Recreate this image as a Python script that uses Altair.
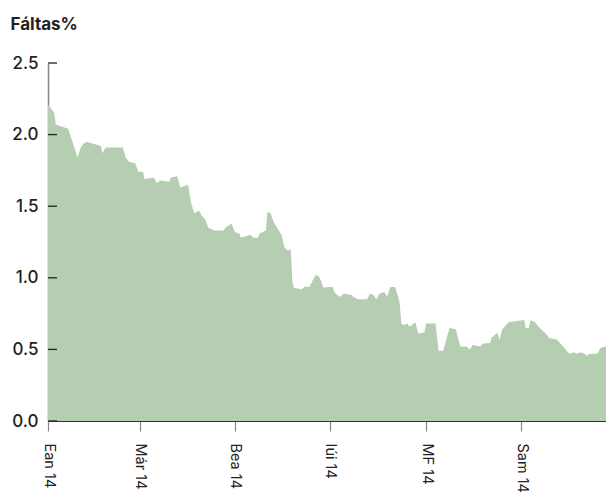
import altair as alt
import pandas as pd

# Day offsets from 1 Jan 2014 and the yield (%)
days = [0, 4, 5, 13, 19, 21, 23, 25, 28, 34, 35, 37, 48, 50, 52, 56, 58, 61, 62, 68,
        70, 72, 78, 79, 83, 85, 90, 92, 94, 97, 99, 101, 103, 107, 113, 114, 118, 120,
        123, 124, 130, 132, 135, 136, 140, 141, 143, 145, 150, 152, 154, 156, 157, 158,
        163, 165, 168, 170, 172, 174, 175, 177, 180, 183, 184, 187, 188, 190, 195, 196,
        199, 205, 207, 209, 211, 213, 216, 218, 220, 223, 225, 226, 227, 229, 231, 232,
        234, 236, 238, 242, 243, 247, 249, 251, 254, 258, 262, 265, 269, 271, 273, 278,
        279, 284, 285, 287, 289, 290, 292, 296, 306, 307, 309, 310, 313, 316, 320, 322,
        327, 331, 335, 338, 340, 342, 345, 346, 348, 353, 355, 358, 364]
values = [2.21, 2.15, 2.07, 2.04, 1.84, 1.91, 1.94, 1.95, 1.94, 1.92, 1.87, 1.91, 1.91, 1.84,
          1.81, 1.80, 1.74, 1.74, 1.69, 1.70, 1.66, 1.68, 1.67, 1.70, 1.71, 1.63, 1.65, 1.52,
          1.45, 1.47, 1.43, 1.41, 1.35, 1.33, 1.33, 1.35, 1.38, 1.32, 1.31, 1.28, 1.30, 1.28,
          1.28, 1.31, 1.33, 1.46, 1.45, 1.39, 1.30, 1.21, 1.19, 1.20, 0.98, 0.93, 0.92, 0.94,
          0.935, 0.98, 1.02, 1.01, 0.99, 0.93, 0.935, 0.935, 0.90, 0.87, 0.87, 0.89, 0.88,
          0.87, 0.85, 0.85, 0.89, 0.88, 0.85, 0.89, 0.90, 0.87, 0.935, 0.935, 0.87, 0.82,
          0.68, 0.67, 0.68, 0.66, 0.67, 0.69, 0.61, 0.62, 0.68, 0.68, 0.68, 0.49, 0.49, 0.65,
          0.64, 0.52, 0.52, 0.50, 0.53, 0.52, 0.54, 0.545, 0.58, 0.60, 0.615, 0.565, 0.64,
          0.69, 0.705, 0.65, 0.65, 0.705, 0.69, 0.65, 0.61, 0.58, 0.57, 0.52, 0.47, 0.48,
          0.47, 0.48, 0.47, 0.455, 0.47, 0.47, 0.51, 0.52, 0.52]

month_labels = ["Ean", "Fea", "Már", "Aib", "Bea", "Mei", "Iúi", "Lún", "MF", "DF", "Sam", "Nol"]
y_ticks = [0.0, 0.5, 1.0, 1.5, 2.0, 2.5]
y_title = "Fáltas%"

dates = (pd.Timestamp("2014-01-01") + pd.to_timedelta(days, unit="D")).strftime("%Y-%m-%dT00:00:00")
df = pd.DataFrame({"date": dates, "v": values})
ticks_df = pd.DataFrame({"v": y_ticks})

FONT = "Inter"
label_expr = ("year(datum.value) > 2014 ? '' : [" + ",".join("'" + m + "'" for m in month_labels)
              + "][month(datum.value)] + ' ' + timeFormat(datum.value, '%y')")

x_values = [alt.DateTime(year=2014, month=m, date=1) for m in (1, 3, 5, 7, 9, 11)] + \
           [alt.DateTime(year=2015, month=1, date=1)]

y_scale = alt.Scale(domain=[0, 2.5], nice=False, zero=True)
y_axis = alt.Axis(values=y_ticks, format=".1f", grid=False, tickSize=0,
                  labelPadding=10, labelFont=FONT, labelFontSize=17,
                  labelFontWeight=500, labelColor="#222222",
                  domainColor="#888888", domainWidth=1.5,
                  title=y_title, titleAngle=0, titleAlign="left",
                  titleBaseline="alphabetic", titleX=-38, titleY=-34,
                  titleFont=FONT, titleFontSize=17, titleFontWeight="bold",
                  titleColor="#222222")

area = alt.Chart(df).mark_area(color="#b5cdb0", opacity=1, interpolate="linear").encode(
    x=alt.X("date:T",
            scale=alt.Scale(domain=[alt.DateTime(year=2014, month=1, date=1),
                                    alt.DateTime(year=2015, month=1, date=1)], nice=False),
            axis=alt.Axis(values=x_values, labelExpr=label_expr, title=None, grid=False,
                          tickSize=10, tickColor="#888888", tickWidth=1.2,
                          domainColor="#333333", domainWidth=1.2,
                          labelAngle=90, labelAlign="left", labelBaseline="middle",
                          labelPadding=12, labelFont=FONT, labelFontSize=14.5,
                          labelColor="#222222")),
    y=alt.Y("v:Q", scale=y_scale, axis=y_axis),
)

tick_rules = alt.Chart(ticks_df).mark_rule(color="#222222", strokeWidth=1.3).encode(
    y=alt.Y("v:Q", scale=y_scale, axis=y_axis),
    x=alt.value(0),
    x2=alt.value(9),
)

chart = alt.layer(area, tick_rules).properties(
    width=568, height=358,
    autosize=alt.AutoSizeParams(type="none"),
    padding={"left": 40, "top": 55, "right": -10, "bottom": 72},
).configure(background="white").configure_view(stroke=None)

chart.save("out.html", embed_options={"renderer": "svg", "actions": False})
